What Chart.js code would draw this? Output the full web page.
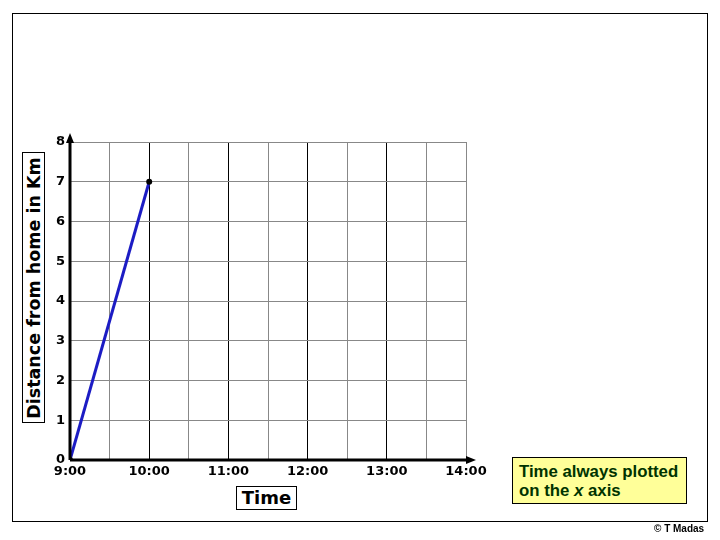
<!DOCTYPE html>
<html>
<head>
<meta charset="utf-8">
<script src="https://cdn.jsdelivr.net/npm/chart.js@4"></script>
<style>
  html, body { margin: 0; padding: 0; background: #fff; }
  #wrap { position: relative; width: 720px; height: 540px; overflow: hidden; }
  #frame { position: absolute; left: 12px; top: 13px; width: 694px; height: 507px; border: 1.5px solid #000; }
  .box { position: absolute; border: 1.5px solid #000; background: #fff; font-family: "DejaVu Sans", Verdana, sans-serif; font-weight: bold; color: #000; }
  #ytitle { left: 22px; top: 152px; width: 21px; height: 269px; }
  #ytitle span { position: absolute; left: 50%; top: 50%; transform: translate(-50%, -50%) rotate(-90deg); white-space: nowrap; font-size: 17.5px; }
  #xtitle { left: 236px; top: 486px; width: 59px; height: 22px; font-size: 18px; text-align: center; line-height: 22px; }
  #note { left: 512px; top: 457px; width: 175px; height: 47px; background: #ffff99; color: #003300; font-family: "Liberation Sans", Arial, sans-serif; font-size: 16.8px; line-height: 19px; padding: 4px 0 0 6px; box-sizing: border-box; }
  #copy { position: absolute; left: 654px; top: 523px; font-family: "Liberation Sans", Arial, sans-serif; font-weight: bold; font-size: 10px; }
  canvas { position: absolute; left: 0; top: 0; }
</style>
</head>
<body>
<div id="wrap">
  <div id="frame"></div>
  <canvas id="mainChart" width="720" height="540"></canvas>
  <div class="box" id="ytitle"><span>Distance from home in Km</span></div>
  <div class="box" id="xtitle">Time</div>
  <div class="box" id="note">Time always plotted<br>on the <i>x</i> axis</div>
  <div id="copy">© T Madas</div>
</div>
<script>
// hours after 9:00 and distance in km
const timeHours = [9, 10]
const distanceKm = [0, 7]
const xTickLabels = ['9:00', '10:00', '11:00', '12:00', '13:00', '14:00']

const axisArrows = {
    id: 'axisArrows',
    afterDraw(chart) {
        const ctx = chart.ctx
        const a = chart.chartArea
        ctx.save()
        ctx.strokeStyle = '#000'
        ctx.fillStyle = '#000'
        ctx.lineWidth = 3
        ctx.beginPath()
        ctx.moveTo(a.left, a.bottom)
        ctx.lineTo(a.left, a.top - 4)
        ctx.moveTo(a.left, a.bottom)
        ctx.lineTo(a.right + 4, a.bottom)
        ctx.stroke()
        ctx.beginPath()
        ctx.moveTo(a.left, a.top - 9)
        ctx.lineTo(a.left - 4, a.top + 1)
        ctx.lineTo(a.left + 4, a.top + 1)
        ctx.closePath()
        ctx.fill()
        ctx.beginPath()
        ctx.moveTo(a.right + 10, a.bottom)
        ctx.lineTo(a.right, a.bottom - 4)
        ctx.lineTo(a.right, a.bottom + 4)
        ctx.closePath()
        ctx.fill()
        ctx.restore()
    }
}

function setupCanvas() {
    const ctx = document.getElementById('mainChart').getContext('2d')
    const points = timeHours.map((t, i) => ({ x: t, y: distanceKm[i] }))
    const config = {
        type: 'line',
        data: {
            datasets: [{
                label: 'Distance',
                data: points,
                borderColor: '#1c1cc4',
                borderWidth: 3,
                pointRadius: 3,
                pointBackgroundColor: '#000',
                pointBorderColor: '#000',
                pointBorderWidth: 0,
                tension: 0
            }]
        },
        options: {
            responsive: false,
            animation: false,
            layout: { padding: { top: 142, right: 254, left: 0, bottom: 0 } },
            plugins: { legend: { display: false }, tooltip: { enabled: false } },
            scales: {
                x: {
                    type: 'linear',
                    min: 9,
                    max: 14,
                    afterFit: (scale) => { scale.height = 80 },
                    border: { display: false },
                    grid: {
                        drawTicks: false,
                        color: (c) => (c.tick && Number.isInteger(c.tick.value) && c.tick.value > 9 && c.tick.value < 14) ? '#000' : '#888',
                        lineWidth: 1
                    },
                    ticks: {
                        stepSize: 0.5,
                        autoSkip: false,
                        maxRotation: 0,
                        padding: 4,
                        color: '#000',
                        font: { family: 'DejaVu Sans', weight: 'bold', size: 13 },
                        callback: (v) => Number.isInteger(v) ? xTickLabels[v - 9] : ''
                    }
                },
                y: {
                    min: 0,
                    max: 8,
                    afterFit: (scale) => { scale.width = 70 },
                    border: { display: false },
                    grid: { drawTicks: false, color: '#888', lineWidth: 1 },
                    ticks: {
                        stepSize: 1,
                        padding: 5,
                        color: '#000',
                        font: { family: 'DejaVu Sans', weight: 'bold', size: 13 }
                    }
                }
            }
        },
        plugins: [axisArrows]
    }
    return new Chart(ctx, config)
}

const mainChart = setupCanvas()
</script>
</body>
</html>
